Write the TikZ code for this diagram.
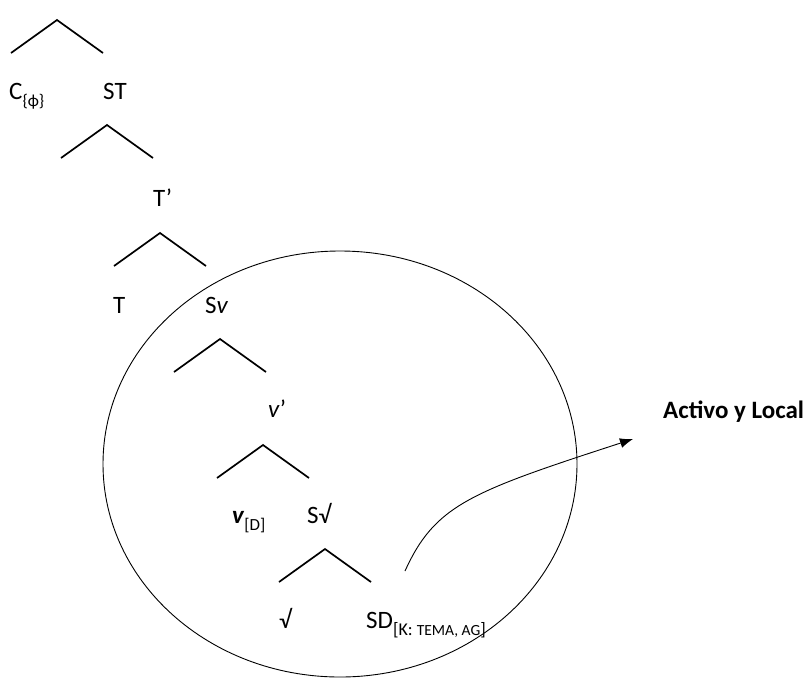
\documentclass[tikz,border=0pt]{standalone}
\usepackage{fontspec}
\setmainfont{Carlito}
\usetikzlibrary{arrows.meta,shapes.geometric}

\newcommand{\subtxt}[1]{\raisebox{-0.6ex}{\fontsize{17}{19}\selectfont #1}}

\tikzset{
  lbl/.style={anchor=base west, inner sep=0pt, font=\fontsize{25}{28}\selectfont},
  fork/.pic={\draw[line width=1.7pt] (-46,33) -- (0,0) -- (46,33);}
}

\begin{document}
\begin{tikzpicture}[x=1pt, y=-1pt]
        \useasboundingbox (0,0) rectangle (808,681);

        % branching points of the tree
        \pic at (57,20) {fork};
        \pic at (107,125) {fork};
        \pic at (160,233) {fork};
        \pic at (220,339) {fork};
        \pic at (263,445) {fork};
        \pic at (325,549) {fork};

        \node (C) [lbl] at (9,99) {C\subtxt{\{ϕ\}}};
        \node (ST) [lbl] at (103,99) {ST};
        \node (Tbar) [lbl] at (153,206) {T’};
        \node (T) [lbl] at (113,313) {T};
        \node (Sv) [lbl] at (205,313) {S\textit{v}};
        \node (vbar) [lbl] at (268,417) {\textit{v}’};
        \node (vD) [lbl] at (232,523) {\textbf{\textit{v}}\subtxt{[D]}};
        \node (Sroot) [lbl] at (307,523) {S√};
        \node (root) [lbl] at (279,628) {√};
        \node (SD) [lbl] at (366,628) {SD\subtxt{\fontsize{18}{20}\selectfont[K: {\fontsize{15.5}{17}\selectfont TEMA, AG}]}};
        \node (AL) [lbl, font=\fontsize{25}{28}\selectfont\bfseries] at (663,418) {Activo y Local};

        % the local domain
        \node (dom) [draw, ellipse, line width=0.9pt, minimum width=474pt, minimum height=426pt] at (340,464) {};

        \coordinate (from) at (405,571);
        \coordinate (to) at (633,439);
        \draw[-{Latex[length=13pt, width=10pt]}, line width=0.9pt] (from) .. controls (435,505) and (470,492) .. (to);
    \end{tikzpicture}
\end{document}
